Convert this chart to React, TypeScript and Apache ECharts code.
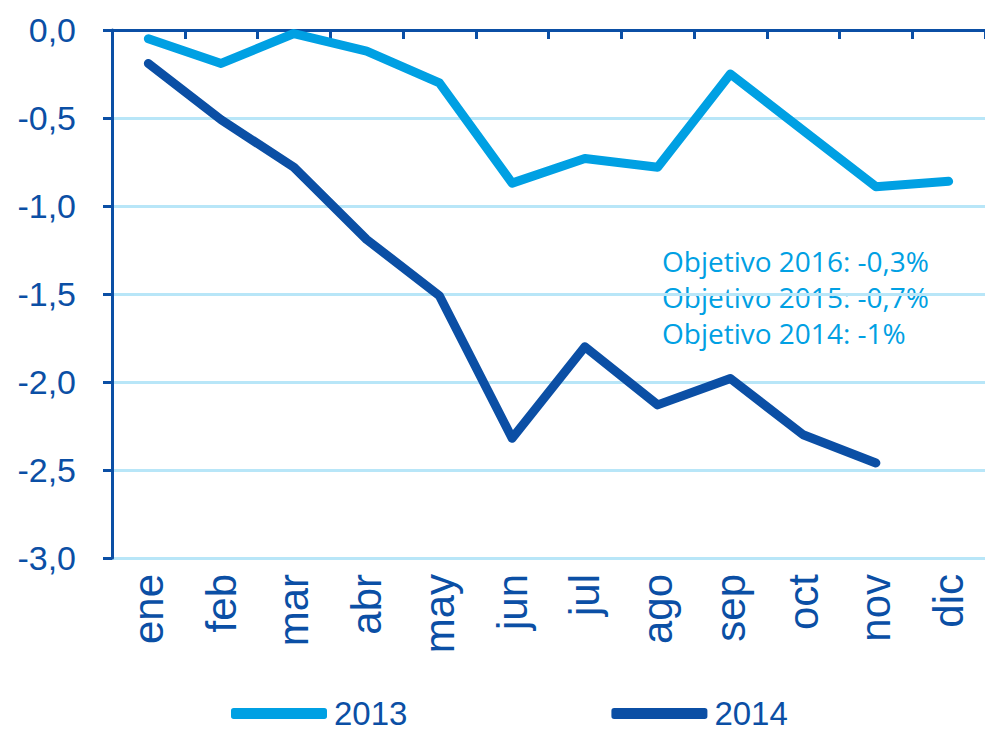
import React, { useEffect, useRef } from "react";
import * as echarts from "echarts";

const months = ["ene", "feb", "mar", "abr", "may", "jun", "jul", "ago", "sep", "oct", "nov", "dic"];
const series2013 = [-0.05, -0.19, -0.02, -0.12, -0.3, -0.87, -0.73, -0.78, -0.25, -0.57, -0.89, -0.86];
const series2014 = [-0.19, -0.51, -0.78, -1.19, -1.51, -2.32, -1.8, -2.13, -1.98, -2.3, -2.46, null];
const yTicks = { min: -3, max: 0, interval: 0.5 };
const notes = ["Objetivo 2016: -0,3%", "Objetivo 2015: -0,7%", "Objetivo 2014: -1%"];

const DARK = "#0b4fa5";
const LIGHT = "#00a0e3";
const GRID = "#b8e6f8";

export default function App() {
  const ref = useRef<HTMLDivElement>(null);
  useEffect(() => {
    if (!ref.current) return;
    const chart = echarts.init(ref.current, undefined, { renderer: "svg" });
    chart.setOption({
      animation: false,
      grid: { left: 112, right: 0, top: 30, bottom: 176, containLabel: false },
      legend: {
        left: 226,
        top: 692,
        itemWidth: 96,
        itemHeight: 11,
        itemGap: 204,
        icon: "roundRect",
        textStyle: {
          fontFamily: "Liberation Sans",
          fontSize: 33,
          lineHeight: 33,
          color: DARK,
          padding: [0, 0, 0, 2],
        },
        data: ["2013", "2014"],
      },
      xAxis: [
        {
          type: "category",
          data: months,
          position: "top",
          boundaryGap: true,
          axisLine: { show: true, onZero: false, lineStyle: { color: DARK, width: 3 } },
          axisTick: { show: true, inside: true, length: 9, interval: 0, lineStyle: { color: DARK, width: 3 } },
          axisLabel: { show: false },
        },
        {
          type: "category",
          data: months,
          position: "bottom",
          boundaryGap: true,
          axisLine: { show: false },
          axisTick: { show: false },
          axisLabel: {
            rotate: 90,
            interval: 0,
            margin: 16,
            fontFamily: "Liberation Sans",
            fontSize: 42,
            color: DARK,
          },
        },
      ],
      yAxis: {
        type: "value",
        min: yTicks.min,
        max: yTicks.max,
        interval: yTicks.interval,
        axisLine: { show: true, onZero: false, lineStyle: { color: DARK, width: 3 } },
        axisTick: { show: true, length: 9, lineStyle: { color: DARK, width: 3 } },
        splitLine: { show: true, lineStyle: { color: GRID, width: 3 } },
        axisLabel: {
          margin: 36,
          fontFamily: "Liberation Sans",
          fontSize: 34,
          color: DARK,
          formatter: (v: number) => v.toFixed(1).replace(".", ","),
        },
      },
      series: [
        {
          name: "2013",
          type: "line",
          data: series2013,
          xAxisIndex: 0,
          showSymbol: false,
          symbol: "none",
          color: LIGHT,
          lineStyle: { color: LIGHT, width: 9, cap: "round", join: "round" },
        },
        {
          name: "2014",
          type: "line",
          data: series2014,
          xAxisIndex: 0,
          showSymbol: false,
          symbol: "none",
          color: DARK,
          lineStyle: { color: DARK, width: 9, cap: "round", join: "round" },
        },
      ],
      graphic: notes.map((t, i) => ({
        type: "text",
        left: 662,
        top: 247 + i * 36,
        style: {
          text: t,
          fill: LIGHT,
          font: "28px 'Open Sans'",
        },
      })),
    });
    return () => chart.dispose();
  }, []);
  return <div ref={ref} style={{ width: 985, height: 734, position: "absolute", left: 0, top: 0 }} />;
}
